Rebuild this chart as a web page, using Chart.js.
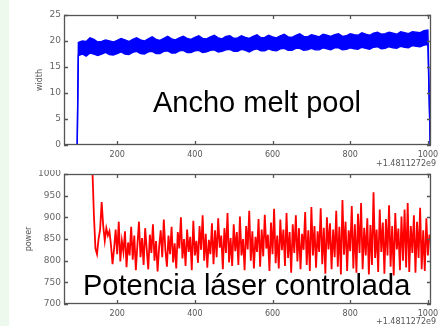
<!DOCTYPE html>
<html>
<head>
<meta charset="utf-8">
<script src="https://cdn.jsdelivr.net/npm/chart.js@4"></script>
<style>
  html, body { margin: 0; padding: 0; background: #ffffff; }
  body { width: 438px; height: 326px; position: relative; overflow: hidden; }
  #strip { position: absolute; left: 0; top: 0; width: 9px; height: 326px; background: #eef9ee; }
  #c1 { position: absolute; left: 0; top: 0; }
  #c2 { position: absolute; left: 0; top: 170px; }
</style>
</head>
<body>
<div id="strip"></div>
<canvas id="c1" width="438" height="170"></canvas>
<canvas id="c2" width="438" height="156"></canvas>
<script>
// ---------- DATA ----------
// x axis (seconds, offset +1.4811272e9)
const xTicks = [200, 400, 600, 800, 1000];
const xMin = 63, xMax = 1008;
const xOffsetLabel = '+1.4811272e9';

// top chart: melt pool width (band envelope every 10 s from 100 to 1000)
const widthBandStart = 100, widthBandStep = 10;
const widthUpper = [
  19.7, 20.0, 19.9, 20.6, 20.3, 19.8, 19.9, 20.2, 20.0, 19.8,
  20.1, 20.5, 20.2, 19.9, 20.3, 20.6, 20.2, 20.0, 20.4, 20.8,
  20.3, 20.1, 20.5, 20.9, 20.4, 20.2, 20.6, 20.9, 20.5, 20.3,
  20.7, 21.0, 20.5, 20.4, 20.8, 21.1, 20.6, 20.4, 20.9, 21.0,
  20.5, 20.6, 21.0, 20.7, 20.5, 20.9, 21.2, 20.6, 20.7, 21.1,
  20.8, 20.6, 21.0, 21.3, 20.8, 20.7, 21.1, 21.4, 20.9, 20.8,
  21.2, 21.0, 20.8, 21.3, 21.1, 20.9, 21.2, 21.4, 20.9, 21.0,
  21.4, 21.2, 21.1, 21.6, 21.3, 21.1, 21.5, 21.7, 21.3, 21.4,
  21.7, 21.5, 21.3, 21.8, 21.6, 21.4, 21.8, 21.7, 21.6, 22.0,
  22.1
];
const widthLower = [
  17.2, 17.5, 17.1, 17.7, 17.5, 17.2, 17.5, 17.8, 17.4, 17.3,
  17.6, 17.9, 17.5, 17.4, 17.8, 18.0, 17.6, 17.5, 17.9, 18.0,
  17.6, 17.6, 18.0, 18.1, 17.7, 17.7, 18.1, 18.2, 17.8, 17.8,
  18.1, 18.2, 17.8, 17.9, 18.2, 18.3, 17.9, 18.0, 18.3, 18.4,
  18.0, 18.0, 18.4, 18.2, 17.9, 18.3, 18.5, 18.1, 18.1, 18.5,
  18.2, 18.1, 18.5, 18.6, 18.2, 18.2, 18.6, 18.6, 18.2, 18.3,
  18.6, 18.3, 18.3, 18.7, 18.5, 18.3, 18.7, 18.7, 18.3, 18.4,
  18.7, 18.5, 18.4, 18.8, 18.6, 18.4, 18.8, 18.9, 18.5, 18.6,
  18.9, 18.7, 18.6, 19.0, 18.8, 18.7, 19.1, 19.0, 18.9, 19.2,
  19.3
];
// the signal is 0 before it starts and after it ends
const widthOffBefore = [63, 97];
const widthOffAfter = [1006, 1008];
const widthTicks = [0, 5, 10, 15, 20, 25];

// bottom chart: controlled laser power, sampled every 4 s from 136
const powerStart = 136, powerStep = 4;
const power = [
  1015, 905, 828, 815, 850, 872, 935, 880, 846, 875,
  858, 868, 836, 792, 828, 872, 815, 890, 798, 846,
  820, 868, 785, 842, 812, 878, 802, 858, 778, 836,
  890, 808, 852, 790, 875, 826, 780, 860, 818, 884,
  800, 845, 775, 832, 870, 808, 895, 825, 786, 858,
  815, 878, 796, 840, 782, 866, 828, 900, 805, 850,
  788, 872, 820, 855, 778, 892, 812, 846, 795, 880,
  825, 905, 800, 862, 784, 848, 815, 886, 792, 870,
  808, 898, 830, 858, 780, 875, 818, 910, 796, 852,
  788, 884, 822, 866, 790, 902, 812, 850, 778, 880,
  826, 915, 800, 868, 782, 855, 820, 896, 786, 872,
  810, 906, 828, 860, 776, 888, 815, 920, 794, 858,
  782, 895, 824, 872, 788, 910, 806, 866, 772, 884,
  818, 905, 798, 875, 780, 862, 825, 912, 790, 870,
  776, 924, 812, 880, 784, 868, 820, 921, 792, 876,
  770, 900, 826, 886, 780, 872, 808, 915, 786, 878,
  768, 940, 814, 890, 776, 870, 822, 926, 782, 884,
  772, 908, 818, 933, 780, 876, 812, 898, 768, 882,
  790, 958, 806, 872, 774, 918, 820, 888, 770, 896,
  812, 928, 786, 880, 766, 910, 826, 874, 778, 902,
  800, 918, 784, 933, 774, 880, 818, 905, 772, 890,
  806, 922, 780, 870, 776, 898, 812, 860
];
const powerTicks = [700, 750, 800, 850, 900, 950, 1000];

// ---------- BUILD ----------
function bandPoints(vals) {
  const pts = widthOffBefore.map(x => ({x, y: 0}));
  vals.forEach((v, i) => pts.push({x: widthBandStart + i * widthBandStep, y: v}));
  widthOffAfter.forEach(x => pts.push({x, y: 0}));
  return pts;
}
const powerPoints = power.map((v, i) => ({x: powerStart + i * powerStep, y: v}));

const framePlugin = {
  id: 'frame',
  afterDatasetsDraw(chart, args, o) {
    const {ctx, chartArea: a, scales} = chart;
    ctx.save();
    ctx.strokeStyle = '#555';
    ctx.lineWidth = 1.3;
    ctx.strokeRect(a.left + 0.5, a.top + 0.5, a.right - a.left - 1, a.bottom - a.top - 1);
    const L = 4;
    ctx.beginPath();
    scales.x.ticks.forEach(t => {
      const px = Math.round(scales.x.getPixelForValue(t.value)) + 0.5;
      ctx.moveTo(px, a.bottom); ctx.lineTo(px, a.bottom - L);
      ctx.moveTo(px, a.top); ctx.lineTo(px, a.top + L);
    });
    scales.y.ticks.forEach(t => {
      const py = Math.round(scales.y.getPixelForValue(t.value)) + 0.5;
      ctx.moveTo(a.left, py); ctx.lineTo(a.left + L, py);
      ctx.moveTo(a.right, py); ctx.lineTo(a.right - L, py);
    });
    ctx.stroke();
    // offset label
    ctx.fillStyle = '#555';
    ctx.font = '8px "DejaVu Sans"';
    ctx.textAlign = 'right';
    ctx.textBaseline = 'middle';
    ctx.fillText(o.offsetText, o.offX, o.offY);
    // big annotation
    ctx.fillStyle = '#000';
    ctx.font = '29px "Liberation Sans", Arial, sans-serif';
    ctx.textAlign = 'left';
    ctx.textBaseline = 'alphabetic';
    ctx.fillText(o.note, o.noteX, o.noteY);
    ctx.restore();
  }
};

function makeOptions(p) {
  return {
    responsive: false,
    animation: false,
    layout: { padding: { top: p.padTop, right: 7, left: 0, bottom: 0 } },
    plugins: {
      legend: { display: false },
      tooltip: { enabled: false },
      frame: p.frame
    },
    elements: { point: { radius: 0 }, line: { tension: 0 } },
    scales: {
      x: {
        type: 'linear', min: xMin, max: xMax,
        grid: { display: false, drawTicks: false },
        border: { display: false },
        afterBuildTicks: s => { s.ticks = xTicks.map(v => ({value: v})); },
        ticks: { font: { size: 8, family: 'DejaVu Sans' }, color: '#555', padding: 5, maxRotation: 0, autoSkip: false, callback: v => String(v) },
        afterFit: s => { s.height = p.xHeight; s.paddingLeft = 0; s.paddingRight = 0; }
      },
      y: {
        type: 'linear', min: p.yMin, max: p.yMax,
        grid: { display: false, drawTicks: false },
        border: { display: false },
        afterBuildTicks: s => { s.ticks = p.yTicks.map(v => ({value: v})); },
        ticks: { font: { size: 9, family: 'DejaVu Sans' }, color: '#666', padding: 3, callback: v => String(v) },
        title: { display: true, text: p.yTitle, color: '#555', font: { size: 8, family: 'DejaVu Sans' }, padding: { top: p.titlePad, bottom: 0 } },
        afterFit: s => { s.width = 64; s.paddingTop = 0; s.paddingBottom = 0; }
      }
    }
  };
}

new Chart(document.getElementById('c1'), {
  type: 'line',
  data: {
    datasets: [
      { data: bandPoints(widthLower), borderColor: '#0000ff', borderWidth: 1.4, fill: false },
      { data: bandPoints(widthUpper), borderColor: '#0000ff', borderWidth: 1.4, backgroundColor: '#0000ff', fill: '-1' }
    ]
  },
  options: makeOptions({
    padTop: 15, xHeight: 25, yMin: 0, yMax: 25, yTicks: widthTicks, yTitle: 'width', titlePad: 35,
    frame: { offsetText: xOffsetLabel, offX: 436, offY: 164, note: 'Ancho melt pool', noteX: 153, noteY: 112 }
  }),
  plugins: [framePlugin]
});

new Chart(document.getElementById('c2'), {
  type: 'line',
  data: {
    datasets: [
      { data: powerPoints, borderColor: '#ff0000', borderWidth: 1.8, fill: false }
    ]
  },
  options: makeOptions({
    padTop: 4, xHeight: 22, yMin: 700, yMax: 1000, yTicks: powerTicks, yTitle: 'power', titlePad: 24,
    frame: { offsetText: xOffsetLabel, offX: 436, offY: 152, note: 'Potencia láser controlada', noteX: 83, noteY: 125 }
  }),
  plugins: [framePlugin]
});
</script>
</body>
</html>
